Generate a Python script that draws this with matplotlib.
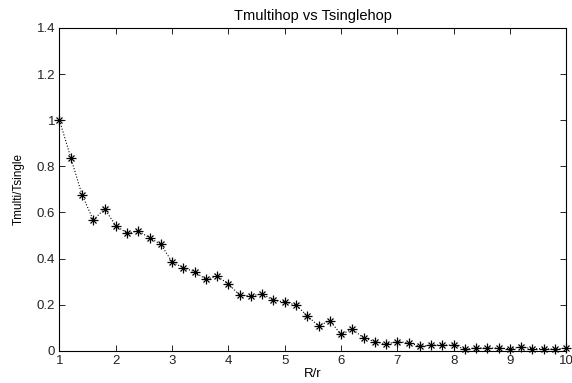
import matplotlib
matplotlib.use("Agg")
import matplotlib.pyplot as plt

plt.rcParams['font.family'] = ['Liberation Sans', 'DejaVu Sans']

x_values = [1.0, 1.2, 1.4, 1.6, 1.8, 2.0, 2.2, 2.4, 2.6, 2.8,
            3.0, 3.2, 3.4, 3.6, 3.8, 4.0, 4.2, 4.4, 4.6, 4.8,
            5.0, 5.2, 5.4, 5.6, 5.8, 6.0, 6.2, 6.4, 6.6, 6.8,
            7.0, 7.2, 7.4, 7.6, 7.8, 8.0, 8.2, 8.4, 8.6, 8.8,
            9.0, 9.2, 9.4, 9.6, 9.8, 10.0]
ratio = [1.0, 0.838, 0.677, 0.567, 0.616, 0.543, 0.51, 0.52, 0.49, 0.462,
         0.385, 0.36, 0.343, 0.31, 0.323, 0.29, 0.241, 0.238, 0.247, 0.219,
         0.212, 0.198, 0.152, 0.108, 0.131, 0.071, 0.094, 0.056, 0.04, 0.029,
         0.04, 0.035, 0.019, 0.025, 0.025, 0.025, 0.007, 0.013, 0.012, 0.012,
         0.009, 0.017, 0.009, 0.009, 0.007, 0.012]

x_ticks = [1, 2, 3, 4, 5, 6, 7, 8, 9, 10]
x_tick_labels = ["1", "2", "3", "4", "5", "6", "7", "8", "9", "10"]
y_ticks = [0, 0.2, 0.4, 0.6, 0.8, 1.0, 1.2, 1.4]
y_tick_labels = ["0", "0.2", "0.4", "0.6", "0.8", "1", "1.2", "1.4"]

fig = plt.figure(figsize=(5.72, 3.83), dpi=100)
ax = fig.add_axes([0.104, 0.084, 0.886, 0.843])
ax.plot(x_values, ratio, linestyle=":", color="black", linewidth=0.8)
ax.plot(x_values, ratio, linestyle="none", color="black",
        marker="+", markersize=7, markeredgewidth=0.9, clip_on=False)
ax.plot(x_values, ratio, linestyle="none", color="black",
        marker="x", markersize=4.5, markeredgewidth=0.9, clip_on=False)
ax.set_xlim(1, 10)
ax.set_ylim(0, 1.4)
ax.set_xticks(x_ticks)
ax.set_xticklabels(x_tick_labels)
ax.set_yticks(y_ticks)
ax.set_yticklabels(y_tick_labels)
ax.tick_params(direction="in", top=True, right=True, labelsize=9.5, length=4,
               width=0.7, pad=3, colors="#222222")
for s in ax.spines.values():
    s.set_linewidth(0.8)
ax.set_title("Tmultihop vs Tsinglehop", fontsize=10.5, pad=6)
ax.set_xlabel("R/r", fontsize=9.5, labelpad=1)
ax.set_ylabel("Tmulti/Tsingle", fontsize=8.5, labelpad=9)
fig.savefig("out.png", dpi=100)
